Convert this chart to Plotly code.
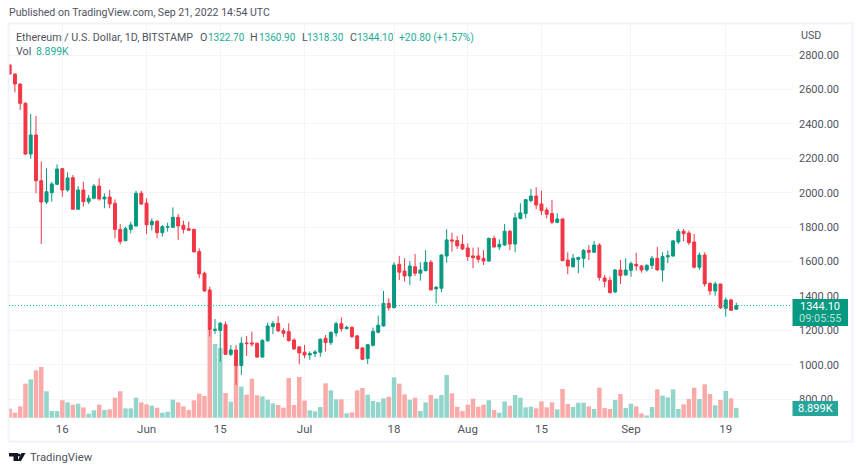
import pandas as pd
import plotly.graph_objects as go

W, H = 860, 473
FONT = "Roboto"
GRID = "#f2f4f9"
TXT = "#50535e"
UP = "#089981"
DOWN = "#f23645"
UP_VOL = "#92d5ca"
DOWN_VOL = "#f9aaa9"

dates = pd.date_range("2022-05-06", "2022-09-21", freq="D")

opens = [2743,2690,2632,2520,2225,2336,2070,1946,2000,2049,2140,2016,2088,1904,2016,1948,1968,2039,1964,1975,
         1939,1787,1721,1787,1807,1997,1940,1814,1834,1768,1800,1799,1857,1811,1791,1787,1658,1532,1435,1200,
         1200,1233,1061,1086,995,1127,1127,1125,1045,1139,1222,1241,1198,1193,1144,1104,1073,1057,1065,1073,
         1154,1129,1185,1239,1210,1218,1168,1098,1036,1113,1189,1226,1357,1332,1584,1545,1516,1570,1532,1547,
         1596,1441,1445,1632,1726,1722,1700,1679,1633,1633,1619,1603,1735,1685,1696,1776,1702,1850,1879,1954,
         1981,1935,1900,1879,1828,1848,1609,1570,1613,1619,1665,1654,1696,1505,1491,1423,1551,1522,1549,1584,
         1574,1551,1578,1619,1551,1627,1632,1714,1776,1766,1714,1567,1638,1474,1429,1470,1328,1377,1322.7]
highs = [2745,2695,2636,2526,2458,2446,2181,2142,2063,2165,2144,2119,2103,2039,2064,1987,2051,2084,1997,2016,
         1962,1818,1803,1832,2012,2012,1968,1851,1842,1813,1826,1915,1876,1838,1832,1791,1677,1542,1454,1266,
         1249,1251,1115,1115,1160,1168,1193,1129,1148,1245,1255,1282,1212,1241,1154,1109,1115,1077,1086,1154,
         1173,1193,1251,1276,1226,1222,1173,1102,1121,1216,1286,1429,1387,1596,1633,1619,1603,1644,1596,1667,
         1609,1458,1644,1788,1768,1749,1757,1706,1681,1683,1667,1739,1751,1729,1818,1784,1884,1939,1964,2022,
         2032,2012,1915,1958,1881,1850,1654,1644,1629,1673,1696,1720,1706,1522,1512,1557,1609,1619,1600,1652,
         1580,1584,1633,1685,1654,1664,1726,1790,1790,1780,1760,1652,1654,1477,1483,1470,1392,1383,1360.9]
lows = [2690,2584,2481,2220,2198,1997,1702,1935,1948,2045,1977,2006,1904,1900,1919,1935,1962,1954,1910,1910,
        1735,1700,1721,1764,1803,1929,1760,1780,1735,1745,1774,1795,1725,1764,1780,1654,1503,1425,1164,1180,
        1018,1057,1051,883,941,1051,1106,1040,1043,1135,1179,1191,1160,1135,1086,1003,1038,1028,1044,1047,
        1077,1115,1164,1193,1206,1154,1090,1028,1005,1106,1183,1222,1315,1328,1493,1483,1464,1516,1489,1543,
        1435,1357,1423,1594,1658,1673,1667,1603,1561,1594,1580,1600,1681,1667,1692,1667,1654,1846,1851,1945,
        1904,1871,1851,1817,1822,1603,1526,1565,1532,1565,1609,1652,1489,1450,1415,1419,1470,1518,1512,1547,
        1536,1541,1557,1549,1483,1590,1629,1702,1718,1696,1561,1551,1454,1406,1402,1324,1280,1313,1318.3]
closes = [2690,2632,2520,2225,2336,2070,1946,2006,2051,2138,2016,2086,1904,2016,1948,1968,2039,1964,1975,1935,
          1787,1716,1791,1813,1997,1935,1814,1834,1768,1803,1803,1857,1807,1787,1782,1656,1528,1429,1206,1206,
          1241,1061,1086,995,1125,1123,1121,1045,1142,1226,1239,1197,1183,1140,1092,1069,1057,1065,1075,1148,
          1129,1189,1239,1210,1218,1164,1094,1032,1117,1193,1230,1357,1332,1580,1538,1516,1574,1532,1551,1596,
          1435,1450,1638,1726,1720,1691,1673,1629,1623,1613,1603,1735,1685,1700,1776,1702,1854,1883,1960,1981,
          1929,1896,1875,1828,1848,1605,1574,1619,1623,1665,1654,1696,1507,1485,1419,1551,1518,1551,1588,1574,
          1551,1578,1619,1551,1629,1634,1720,1776,1762,1710,1567,1638,1470,1429,1470,1332,1377,1317,1344.1]
volumes = [8.3,4.6,10.4,31.3,35.3,43.6,46.7,24.3,6.1,6.1,16.0,14.1,12.0,12.9,9.5,3.7,6.8,12.0,7.1,7.7,
           18.4,24.3,8.6,8.6,18.4,14.1,12.3,11.1,9.2,4.6,5.5,16.6,14.1,10.4,7.1,16.0,22.1,20.0,81.4,67.8,
           64.2,22.7,14.7,47.9,28.6,21.2,35.9,20.6,19.6,16.6,13.2,11.7,9.2,36.5,11.7,37.5,15.7,6.8,5.8,9.8,
           31.6,25.2,16.9,16.9,4.0,4.9,25.2,27.3,21.2,15.4,14.4,17.8,19.3,37.1,31.3,21.5,16.6,18.4,6.1,14.1,
           20.9,17.5,20.9,39.3,22.4,10.1,6.1,12.0,17.5,10.1,12.0,16.0,7.1,4.6,15.0,11.1,20.9,18.4,9.5,10.1,
           8.6,15.0,9.5,14.1,7.7,26.4,12.6,9.8,13.8,13.8,10.4,8.0,27.6,8.9,8.0,16.3,21.8,8.9,12.9,10.4,
           4.0,2.1,9.8,26.1,20.3,18.7,26.1,8.0,12.3,17.2,27.6,17.2,30.7,21.8,11.4,16.3,24.6,17.8,8.899]

price_ticks = [800, 1000, 1200, 1400, 1600, 1800, 2000, 2200, 2400, 2600, 2800]
time_tick_dates = ["2022-05-16", "2022-06-01", "2022-06-15", "2022-07-01", "2022-07-18",
                   "2022-08-01", "2022-08-15", "2022-09-01", "2022-09-19"]
time_tick_text = ["16", "Jun", "15", "Jul", "18", "Aug", "15", "Sep", "19"]
last_price = closes[-1]


def px(x):
    return x / W


def py(y):
    return 1 - y / H


fig = go.Figure()
fig.add_trace(go.Bar(
    x=dates, y=volumes, yaxis="y", xaxis="x", hoverinfo="skip",
    marker=dict(color=[UP_VOL if c >= o else DOWN_VOL for o, c in zip(opens, closes)], line_width=0),
))
fig.add_trace(go.Candlestick(
    x=dates, open=opens, high=highs, low=lows, close=closes, yaxis="y2", xaxis="x",
    increasing=dict(line=dict(color=UP, width=1), fillcolor=UP),
    decreasing=dict(line=dict(color=DOWN, width=1), fillcolor=DOWN),
    whiskerwidth=0,
))

annots = []


def note(x, y, text, color=TXT, size=10.7, anchor="left"):
    annots.append(dict(x=px(x), y=py(y), xref="paper", yref="paper", text=text, showarrow=False,
                       xanchor=anchor, yanchor="middle", borderpad=0,
                       font=dict(family=FONT, size=size, color=color)))


GREEN = "#22ab94"
note(8, 13, "Published on TradingView.com, Sep 21, 2022 14:54 UTC", "#50535e", 10.55)
note(15, 37, "Ethereum / U.S. Dollar, 1D, BITSTAMP")
note(199, 37, "O")
note(207, 37, "1322.70", GREEN, 10)
note(249, 37, "H")
note(258, 37, "1360.90", GREEN, 10)
note(301, 37, "L")
note(306, 37, "1318.30", GREEN, 10)
note(349, 37, "C")
note(356, 37, "1344.10", GREEN, 10)
note(398, 37, "+20.80 (+1.57%)", GREEN, 10.3)
note(15, 51, "Vol")
note(35, 51, "8.899K", GREEN, 10.4)
note(800, 36, "USD")
note(29, 457.5, "TradingView", "#50535e", 11.3)
note(820, 306.5, "1344.10", "#ffffff", 11, "center")
note(820, 318.5, "09:05:55", "#b5e0d9", 11, "center")
note(815, 408.5, "8.899K", "#ffffff", 11, "center")


def rect(x0, y0, x1, y1, fill=None, line=None, lw=0):
    return dict(type="rect", xref="paper", yref="paper", x0=px(x0), x1=px(x1), y0=py(y0), y1=py(y1),
                fillcolor=fill or "rgba(0,0,0,0)", line=dict(color=line or "rgba(0,0,0,0)", width=lw),
                layer="above")


def poly(points, fill="#131722"):
    d = "M" + " L".join(f"{px(a):.5f},{py(b):.5f}" for a, b in points) + " Z"
    return dict(type="path", xref="paper", yref="paper", path=d, fillcolor=fill, line_width=0, layer="above")


shapes = [
    rect(8.5, 23.5, 852.5, 441.5, line="#f0f3fa", lw=2),
    dict(type="line", xref="paper", yref="y2", x0=px(9), x1=px(792), y0=last_price, y1=last_price,
         line=dict(color="#16c2a8", width=1, dash="1px,2px"), layer="above"),
    rect(792.5, 299, 848, 326, fill=UP),
    rect(792.5, 401, 838, 416, fill="#26a69a"),
    poly([(9, 453), (18, 453), (18, 461), (13.5, 461), (13.5, 456.5), (9, 456.5)]),
    poly([(21.5, 453), (25.5, 453), (21, 461), (17.5, 461)]),
    dict(type="circle", xref="paper", yref="paper", x0=px(17.8), x1=px(20.6), y0=py(456.4), y1=py(453.4),
         fillcolor="#131722", line_width=0, layer="above"),
]

top, bottom = 24, 420
dom = [py(bottom), py(top)]
fig.update_layout(
    width=W, height=H, margin=dict(l=0, r=0, t=0, b=0), paper_bgcolor="white", plot_bgcolor="white",
    showlegend=False, bargap=0.15, boxgap=0.2, annotations=annots, shapes=shapes,
    font=dict(family=FONT, size=11, color="#50535e"),
    xaxis=dict(domain=[px(9), px(792)], type="date", range=["2022-05-05 21:00", "2022-10-01 14:00"],
               tickmode="array", tickvals=time_tick_dates, ticktext=time_tick_text, showgrid=True,
               gridcolor=GRID, gridwidth=1, showline=False, zeroline=False, ticks="", rangeslider=dict(visible=False),
               tickfont=dict(family=FONT, size=11.5, color="#50535e"), anchor="y"),
    yaxis=dict(domain=dom, range=[-2.1, 362], visible=False, fixedrange=True),
    yaxis2=dict(domain=dom, range=[679, 2981], overlaying="y", side="right", anchor="x", tickmode="array",
                tickvals=price_ticks, ticktext=[f"{v:.2f}" for v in price_ticks], showgrid=True,
                gridcolor=GRID, gridwidth=1, zeroline=False, showline=False, ticks="", ticklabelstandoff=6,
                tickfont=dict(family=FONT, size=11, color="#50535e")),
)
fig.write_html("out.html", config=dict(displayModeBar=False),
               post_script="document.documentElement.style.margin='0';document.body.style.margin='0';document.body.style.overflow='hidden';")
